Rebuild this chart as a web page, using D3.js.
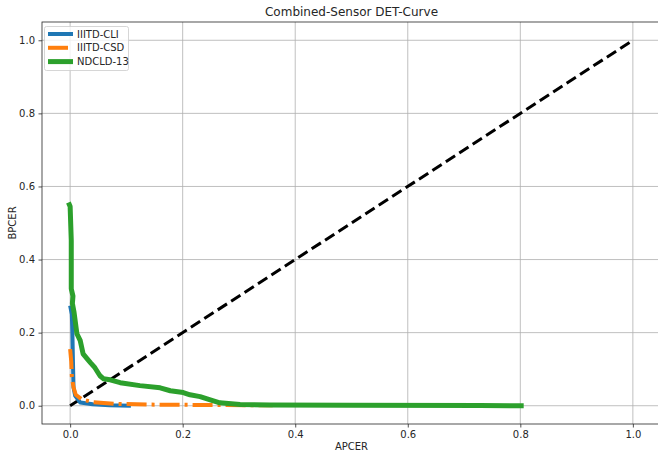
<!DOCTYPE html>
<html><head><meta charset="utf-8">
<script src="https://cdn.jsdelivr.net/npm/d3@7"></script>
<style>body{margin:0;background:#fff}svg{display:block}text{font-family:"DejaVu Sans",sans-serif}</style>
</head><body><svg id="c" width="658" height="455"></svg>
<script>
const title = "Combined-Sensor DET-Curve";
const xLabel = "APCER", yLabel = "BPCER";
const tickValues = [0.0, 0.2, 0.4, 0.6, 0.8, 1.0];
const seriesNames = ["IIITD-CLI", "IIITD-CSD", "NDCLD-13"];
const seriesColors = ["#1f77b4", "#ff7f0e", "#2ca02c"];
const cliX = [0.0, 0.003, 0.004, 0.005, 0.006, 0.009, 0.018, 0.04, 0.07, 0.108];
const cliY = [0.274, 0.25, 0.2, 0.12, 0.05, 0.027, 0.009, 0.004, 0.001, 0.0];
const csdX = [0.0, 0.002, 0.003, 0.006, 0.01, 0.02, 0.04, 0.08, 0.15, 0.25, 0.36];
const csdY = [0.155, 0.12, 0.08, 0.05, 0.03, 0.018, 0.01, 0.005, 0.003, 0.002, 0.001];
const ndX = [-0.003, 0.0, 0.002, 0.002, 0.005, 0.004, 0.007, 0.012, 0.018, 0.023, 0.030, 0.036, 0.044, 0.053, 0.059, 0.071, 0.089, 0.124, 0.160, 0.178, 0.201, 0.213, 0.231, 0.249, 0.266, 0.302, 0.355, 0.497, 0.728, 0.806];
const ndY = [0.556, 0.545, 0.452, 0.32, 0.30, 0.28, 0.255, 0.197, 0.178, 0.142, 0.129, 0.118, 0.104, 0.082, 0.074, 0.071, 0.063, 0.055, 0.049, 0.041, 0.036, 0.030, 0.025, 0.016, 0.008, 0.0036, 0.002, 0.001, 0.0005, 0.0];
const diagX = [0, 1], diagY = [0, 1];

const svg = d3.select("#c");
const L = 42, R = 661, T = 22, B = 424;
const x = d3.scaleLinear().domain([-0.05, 1.05]).range([L, R]);
const y = d3.scaleLinear().domain([-0.05, 1.05]).range([B, T]);

svg.append("defs").append("clipPath").attr("id","clip").append("rect")
  .attr("x",L).attr("y",T).attr("width",R-L).attr("height",B-T);

// grid
const g = svg.append("g");
g.selectAll(".gx").data(tickValues).join("line")
  .attr("x1",d=>x(d)).attr("x2",d=>x(d)).attr("y1",T).attr("y2",B)
  .attr("stroke","#b0b0b0").attr("stroke-width",0.8);
g.selectAll(".gy").data(tickValues).join("line")
  .attr("y1",d=>y(d)).attr("y2",d=>y(d)).attr("x1",L).attr("x2",R)
  .attr("stroke","#b0b0b0").attr("stroke-width",0.8);

const plot = svg.append("g").attr("clip-path","url(#clip)");
const line = d3.line().x(d=>x(d[0])).y(d=>y(d[1]));
function draw(xs, ys, color, w, dash){
  plot.append("path").datum(xs.map((v,i)=>[v, ys[i]]))
    .attr("d", line).attr("fill","none").attr("stroke",color)
    .attr("stroke-width",w).attr("stroke-linejoin","round")
    .attr("stroke-dasharray", dash || null);
}
draw(diagX, diagY, "#000", 3, "11,5");
draw(cliX, cliY, seriesColors[0], 4);
draw(csdX, csdY, seriesColors[1], 4, "20,5,3,5");
draw(ndX, ndY, seriesColors[2], 5);

// axes
const xa = svg.append("g").attr("transform",`translate(0,${B})`)
  .call(d3.axisBottom(x).tickValues(tickValues).tickFormat(d3.format(".1f")).tickSizeOuter(0).tickSize(3.5).tickPadding(3.5));
const ya = svg.append("g").attr("transform",`translate(${L},0)`)
  .call(d3.axisLeft(y).tickValues(tickValues).tickFormat(d3.format(".1f")).tickSizeOuter(0).tickSize(3.5).tickPadding(3.5));
[xa, ya].forEach(a=>{
  a.select(".domain").remove();
  a.selectAll("text").attr("font-size",10).attr("fill","#262626").attr("font-family","DejaVu Sans");
  a.selectAll("line").attr("stroke","#262626").attr("stroke-width",0.8);
});
// spines
svg.append("rect").attr("x",L).attr("y",T).attr("width",R-L).attr("height",B-T)
  .attr("fill","none").attr("stroke","#262626").attr("stroke-width",0.8);

svg.append("text").attr("x",(L+R)/2).attr("y",16).attr("text-anchor","middle")
  .attr("font-size",12).attr("fill","#262626").text(title);
svg.append("text").attr("x",(L+R)/2).attr("y",450).attr("text-anchor","middle")
  .attr("font-size",10).attr("fill","#262626").text(xLabel);
svg.append("text").attr("transform",`translate(16,${(T+B)/2}) rotate(-90)`).attr("text-anchor","middle")
  .attr("font-size",10).attr("fill","#262626").text(yLabel);

// legend
const lg = svg.append("g");
lg.append("rect").attr("x",44.5).attr("y",26.5).attr("width",84).attr("height",44).attr("rx",2)
  .attr("fill","#fff").attr("fill-opacity",0.8).attr("stroke","#ccc").attr("stroke-width",0.8);
const lw = [4, 4, 5], ld = [null, "20,5,3,5", null];
seriesNames.forEach((n,i)=>{
  const yy = 34 + i*13.8;
  lg.append("line").attr("x1",48).attr("x2",73).attr("y1",yy).attr("y2",yy)
    .attr("stroke",seriesColors[i]).attr("stroke-width",lw[i]).attr("stroke-dasharray",ld[i]);
  lg.append("text").attr("x",77).attr("y",yy+3.5).attr("font-size",10).attr("fill","#262626").text(n);
});
</script></body></html>
